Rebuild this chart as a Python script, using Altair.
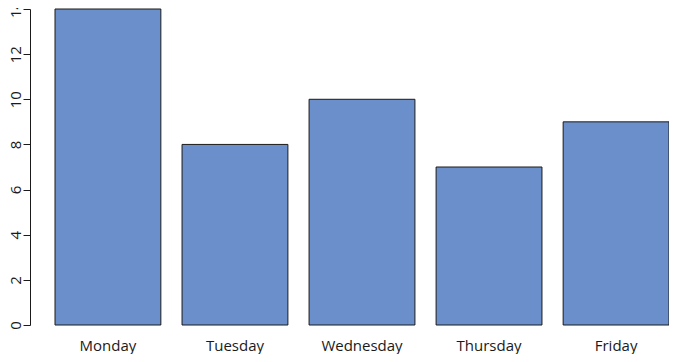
import altair as alt
import pandas as pd

days = ["Monday", "Tuesday", "Wednesday", "Thursday", "Friday"]
counts = [14, 8, 10, 7, 9]
y_ticks = [0, 2, 4, 6, 8, 10, 12, 14]

df = pd.DataFrame({"day": days, "count": counts})

FONT = "Open Sans"
INK = "#1a1a1a"

chart = (
    alt.Chart(df)
    .mark_bar(color="#6B8FCB", stroke=INK, strokeWidth=1)
    .encode(
        x=alt.X(
            "day:N",
            sort=days,
            title=None,
            scale=alt.Scale(paddingInner=0.1667, paddingOuter=0.0984, align=1),
            axis=alt.Axis(
                domain=False,
                ticks=False,
                grid=False,
                labelAngle=0,
                labelPadding=13,
                labelFontSize=15,
                labelFont=FONT,
                labelColor=INK,
            ),
        ),
        y=alt.Y(
            "count:Q",
            title=None,
            scale=alt.Scale(domain=[0, 14], nice=False, zero=True),
            axis=alt.Axis(
                values=y_ticks,
                grid=False,
                domainColor=INK,
                tickColor=INK,
                tickSize=7,
                labelAngle=270,
                labelAlign="center",
                labelBaseline="alphabetic",
                labelPadding=3,
                labelFontSize=15,
                labelFont=FONT,
                labelColor=INK,
            ),
        ),
    )
    .properties(
        width=639,
        height=316,
        background="white",
        autosize=alt.AutoSizeParams(type="none"),
        padding={"left": 22, "top": 1, "right": 0, "bottom": 29},
    )
    .configure_view(stroke=None, strokeWidth=0)
)

chart.save("out.html", embed_options={"renderer": "svg", "actions": False})
